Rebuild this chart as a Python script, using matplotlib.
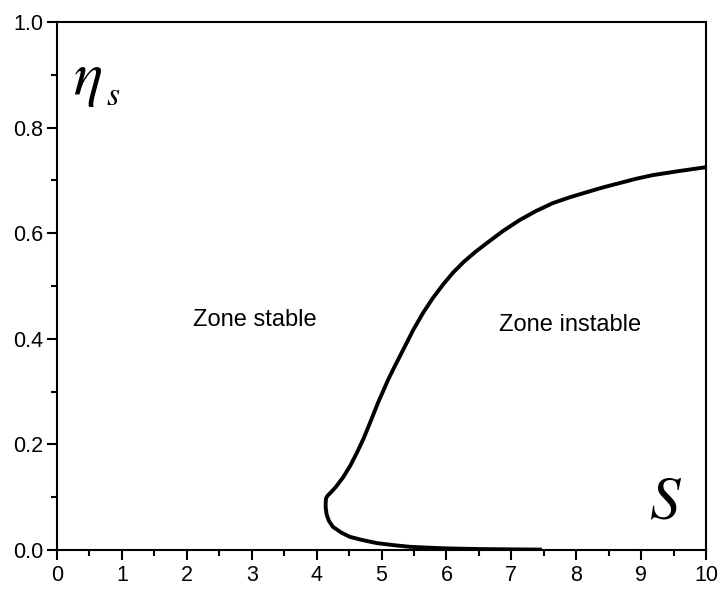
import numpy as np
import matplotlib.pyplot as plt
from matplotlib.ticker import MultipleLocator

plt.rcParams['font.family'] = ['Liberation Sans', 'DejaVu Sans']
plt.rcParams['mathtext.fontset'] = 'stix'

# courbe de stabilite : branche basse (de droite a gauche) puis branche haute
S_vals = [7.47, 7.0, 6.5, 6.0, 5.7, 5.44, 5.2, 4.93, 4.7, 4.51, 4.38, 4.25,
          4.19, 4.155, 4.14, 4.14, 4.145,
          4.17, 4.22, 4.30, 4.41, 4.52, 4.62, 4.72, 4.82, 4.95, 5.1, 5.2, 5.3,
          5.49, 5.64, 5.79, 5.95, 6.10, 6.27, 6.45, 6.62, 6.87, 7.13, 7.38,
          7.64, 7.9, 8.17, 8.42, 8.67, 8.92, 9.18, 9.6, 10.0]
eta_vals = [0.0008, 0.0012, 0.0018, 0.003, 0.0045, 0.006, 0.009, 0.013, 0.019, 0.025, 0.033, 0.044,
            0.055, 0.067, 0.08, 0.09, 0.098,
            0.103, 0.109, 0.120, 0.138, 0.160, 0.184, 0.210, 0.240, 0.280, 0.322, 0.347, 0.371,
            0.417, 0.449, 0.477, 0.503, 0.525, 0.546, 0.565, 0.581, 0.604, 0.625, 0.642,
            0.657, 0.668, 0.678, 0.687, 0.695, 0.703, 0.710, 0.718, 0.725]

fig = plt.figure(figsize=(7.18, 5.9), dpi=100)
ax = fig.add_axes([0.0794, 0.0678, 0.9039, 0.8949])

ax.plot(S_vals, eta_vals, color='black', linewidth=2.8,
        solid_capstyle='butt', solid_joinstyle='round')

ax.set_xlim(0, 10)
ax.set_ylim(0, 1.0)
ax.xaxis.set_major_locator(MultipleLocator(1))
ax.xaxis.set_minor_locator(MultipleLocator(0.5))
ax.yaxis.set_major_locator(MultipleLocator(0.2))
ax.yaxis.set_minor_locator(MultipleLocator(0.1))
ax.xaxis.set_major_formatter(plt.FuncFormatter(lambda v, p: '%d' % v))
ax.yaxis.set_major_formatter(plt.FuncFormatter(lambda v, p: '%.1f' % v))

for sp in ax.spines.values():
    sp.set_linewidth(1.5)
ax.tick_params(which='both', direction='out', width=1.5, top=False, right=False)
ax.tick_params(which='major', length=7, labelsize=15.5)
ax.tick_params(axis='x', which='major', pad=4)
ax.tick_params(axis='y', which='major', pad=3)
ax.tick_params(which='minor', length=4.5)

ax.text(3.05, 0.436, 'Zone stable', fontsize=17, ha='center', va='center')
ax.text(7.9, 0.426, 'Zone instable', fontsize=17, ha='center', va='center')
# eta et indice s places separement (indice plus bas)
ax.text(0.47, 0.89, r'$\eta$', fontsize=44, ha='center', va='center')
ax.text(0.86, 0.858, r'$s$', fontsize=24, ha='center', va='center')
ax.text(9.38, 0.089, r'$S$', fontsize=44, ha='center', va='center')

fig.savefig('out.png', dpi=100)
